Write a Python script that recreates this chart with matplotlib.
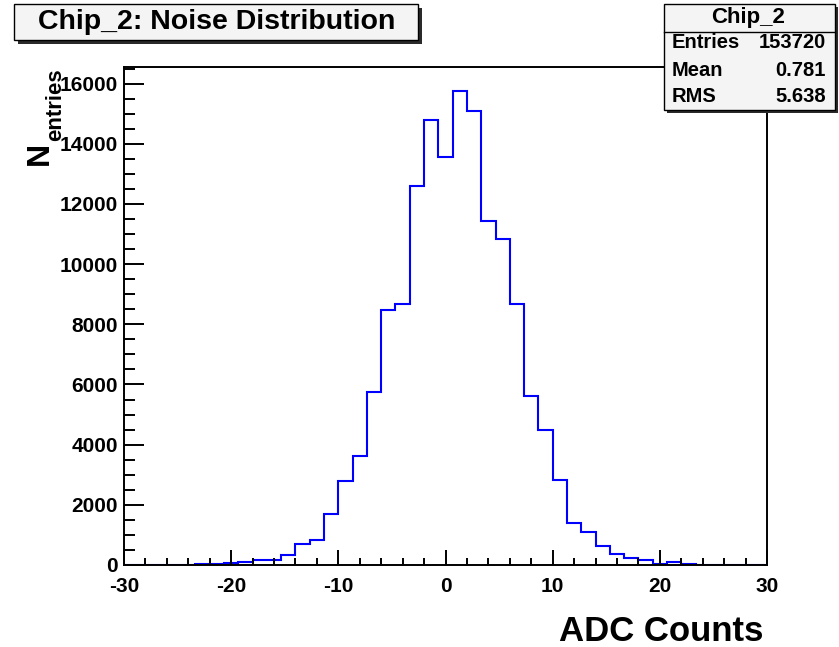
#!/usr/bin/env python3
"""
Noise distribution histogram for Chip_2, drawn in the ROOT look.
"""

import matplotlib
matplotlib.use("Agg")
import matplotlib.pyplot as plt
from matplotlib.patches import Rectangle
from matplotlib.ticker import MultipleLocator
import numpy as np

W, H = 839, 647

# 45 bins from -30 to 30
bin_lo, bin_hi, n_bins = -30, 30, 45
counts = [0, 0, 0, 0, 0,
          30, 40, 50, 100, 170,
          180, 333, 700, 833, 1687,
          2777, 3620, 5753, 8467, 8667,
          12600, 14787, 13567, 15753, 15087,
          11443, 10843, 8667, 5620, 4477,
          2820, 1387, 1087, 633, 353,
          243, 167, 20, 100, 30,
          0, 0, 0, 0, 0]

hist_name = "Chip_2"
title = "Chip_2: Noise Distribution"
stat_labels = ["Entries", "Mean", "RMS"]
stat_values = ["153720", "0.781", "5.638"]
y_max = 16550


def fx(px):
    return px / W


def fy(py):
    return 1 - py / H


def box(fig, x0, y0, x1, y1, shadow=4):
    """Grey box with a dark drop shadow, given in pixel coords"""
    fig.add_artist(Rectangle((fx(x0 + shadow), fy(y1 + shadow)),
                             fx(x1 - x0), (y1 - y0) / H,
                             transform=fig.transFigure, facecolor='#2a2a2a',
                             edgecolor='none', zorder=5))
    fig.add_artist(Rectangle((fx(x0), fy(y1)), fx(x1 - x0), (y1 - y0) / H,
                             transform=fig.transFigure, facecolor='#f4f4f4',
                             edgecolor='black', linewidth=1.0, zorder=5.1))


def main():
    plt.rcParams['font.family'] = 'Liberation Sans'
    plt.rcParams['font.weight'] = 'bold'
    plt.rcParams['axes.unicode_minus'] = False

    fig = plt.figure(figsize=(W / 100, H / 100), dpi=100)
    ax = fig.add_axes([fx(124), fy(565), fx(767 - 124), (565 - 67) / H])

    edges = np.linspace(bin_lo, bin_hi, n_bins + 1)
    ax.stairs(counts, edges, color='#0000ff', linewidth=1.5, baseline=None)

    ax.set_xlim(bin_lo, bin_hi)
    ax.set_ylim(0, y_max)
    ax.xaxis.set_major_locator(MultipleLocator(10))
    ax.xaxis.set_minor_locator(MultipleLocator(2))
    ax.yaxis.set_major_locator(MultipleLocator(2000))
    ax.yaxis.set_minor_locator(MultipleLocator(500))

    ax.tick_params(axis='both', which='both', direction='in', width=1.4,
                   top=False, right=False, labelsize=15, colors='black')
    ax.tick_params(axis='x', which='major', length=10.8, pad=9)
    ax.tick_params(axis='x', which='minor', length=5.4)
    ax.tick_params(axis='y', which='major', length=14.4, pad=4.5)
    ax.tick_params(axis='y', which='minor', length=8)
    for lab in ax.get_xticklabels() + ax.get_yticklabels():
        lab.set_fontweight('bold')
    for sp in ax.spines.values():
        sp.set_linewidth(1.4)

    # axis titles
    fig.text(fx(763), fy(641), "ADC Counts", ha='right', va='baseline',
             fontsize=25, fontweight='bold')
    fig.text(fx(39.5), fy(153.5), "N", rotation=90, ha='center', va='center',
             fontsize=23, fontweight='bold')
    fig.text(fx(56), fy(105), "entries", rotation=90, ha='center', va='center',
             fontsize=16, fontweight='bold')

    # title box
    box(fig, 14, 4, 418, 40)
    fig.text(fx(217), fy(22), title, ha='center', va='center',
             fontsize=20.5, fontweight='bold', zorder=6)

    # stats box
    box(fig, 664, 4, 835, 110, shadow=3)
    fig.add_artist(plt.Line2D([fx(664), fx(835)], [fy(32), fy(32)],
                              transform=fig.transFigure, color='black',
                              linewidth=1.0, zorder=5.2))
    fig.text(fx(748), fy(18), hist_name, ha='center', va='center',
             fontsize=16, fontweight='bold', zorder=6)
    for i, (lab, val) in enumerate(zip(stat_labels, stat_values)):
        y = fy(43 + 27 * i)
        fig.text(fx(672), y, lab, ha='left', va='center', fontsize=14.5,
                 fontweight='bold', zorder=6)
        fig.text(fx(826), y, val, ha='right', va='center', fontsize=14.5,
                 fontweight='bold', zorder=6)

    fig.savefig("out.png", dpi=100)
    plt.close(fig)


if __name__ == "__main__":
    main()
